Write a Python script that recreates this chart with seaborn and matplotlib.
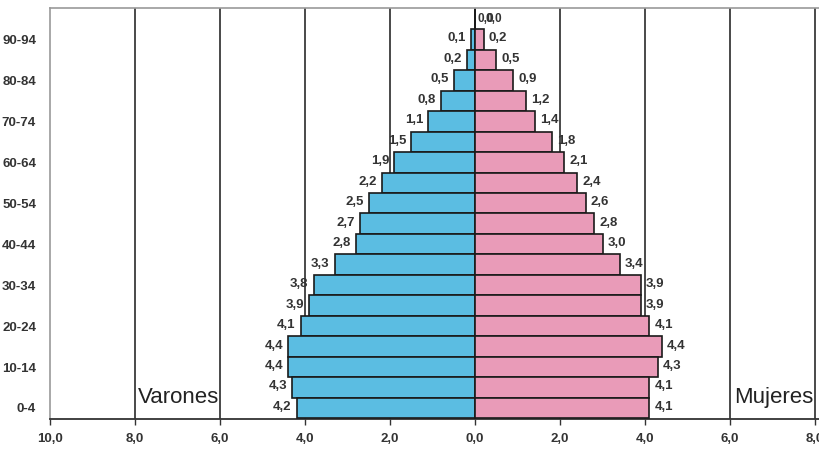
import matplotlib
matplotlib.use("Agg")
import matplotlib.pyplot as plt
import seaborn as sns
import pandas as pd

age_groups = ["0-4", "5-9", "10-14", "15-19", "20-24", "25-29", "30-34", "35-39",
              "40-44", "45-49", "50-54", "55-59", "60-64", "65-69", "70-74", "75-79",
              "80-84", "85-89", "90-94", "95-99"]
varones = [4.2, 4.3, 4.4, 4.4, 4.1, 3.9, 3.8, 3.3, 2.8, 2.7, 2.5, 2.2, 1.9, 1.5,
           1.1, 0.8, 0.5, 0.2, 0.1, 0.0]
mujeres = [4.1, 4.1, 4.3, 4.4, 4.1, 3.9, 3.9, 3.4, 3.0, 2.8, 2.6, 2.4, 2.1, 1.8,
           1.4, 1.2, 0.9, 0.5, 0.2, 0.0]
x_ticks = [-10, -8, -6, -4, -2, 0, 2, 4, 6, 8]

df = pd.DataFrame({"edad": age_groups,
                   "varones": [-v for v in varones],
                   "mujeres": mujeres})
order = age_groups[::-1]  # oldest group on top

sns.set_style("white")
plt.rcParams["font.family"] = ["Liberation Sans", "DejaVu Sans"]

fig = plt.figure(figsize=(8.19, 4.49), dpi=100)
ax = fig.add_axes([50 / 819, 1 - 419 / 449, 769 / 819, 411 / 449])

blue = "#5bbde2"
pink = "#e99bb8"
sns.barplot(data=df, y="edad", x="varones", order=order, orient="h", color=blue,
            width=1.0, edgecolor="#1a1a1a", linewidth=1.2, saturation=1, ax=ax, zorder=3)
sns.barplot(data=df, y="edad", x="mujeres", order=order, orient="h", color=pink,
            width=1.0, edgecolor="#1a1a1a", linewidth=1.2, saturation=1, ax=ax, zorder=3)

ax.set_xlim(-10, 8.09)
ax.set_ylim(len(order) - 0.46, -0.54)

# vertical reference lines
for t in x_ticks[1:]:
    ax.axvline(t, color="#3a3a3a", lw=1.3, zorder=1)

ax.set_xticks(x_ticks)
ax.set_xticklabels([f"{abs(t):.1f}".replace(".", ",") for t in x_ticks],
                   fontsize=9.5, fontweight="bold", color="#333333")
ax.tick_params(axis="x", length=4, width=1, color="#333333", direction="out", pad=6, bottom=True)
ax.set_yticks(range(len(order)))
ax.set_yticklabels([lab if (19 - i) % 2 == 0 else "" for i, lab in enumerate(order)],
                   fontsize=9.5, fontweight="bold", color="#333333")
ax.tick_params(axis="y", length=0, pad=10)
ax.set_xlabel("")
ax.set_ylabel("")

for side in ["left", "top"]:
    ax.spines[side].set_color("#999999")
    ax.spines[side].set_linewidth(1.2)
ax.spines["right"].set_visible(False)
ax.spines["bottom"].set_color("#333333")
ax.spines["bottom"].set_linewidth(1.3)

# value labels
fs = 9.5
for i, lab in enumerate(order):
    k = age_groups.index(lab)
    v, m = varones[k], mujeres[k]
    lbl_v = f"{v:.1f}".replace(".", ",")
    lbl_m = f"{m:.1f}".replace(".", ",")
    if v == 0 and m == 0:
        ax.text(0.05, i, lbl_v, ha="left", va="center", fontsize=8.5,
                fontweight="bold", color="#333333", zorder=4)
        ax.text(0.25, i, lbl_m, ha="left", va="center", fontsize=8.5,
                fontweight="bold", color="#333333", zorder=4)
        continue
    ax.text(-v - 0.12, i - 0.05, lbl_v, ha="right", va="center", fontsize=fs,
            fontweight="bold", color="#333333", zorder=4)
    ax.text(m + 0.12, i - 0.05, lbl_m, ha="left", va="center", fontsize=fs,
            fontweight="bold", color="#333333", zorder=4)

ax.text(-8.0 + 0.07, 18.5, "Varones", ha="left", va="center", fontsize=16, color="#222222", zorder=4)
ax.text(6.0 + 0.1, 18.5, "Mujeres", ha="left", va="center", fontsize=16, color="#222222", zorder=4)

fig.savefig("out.png", dpi=100)
